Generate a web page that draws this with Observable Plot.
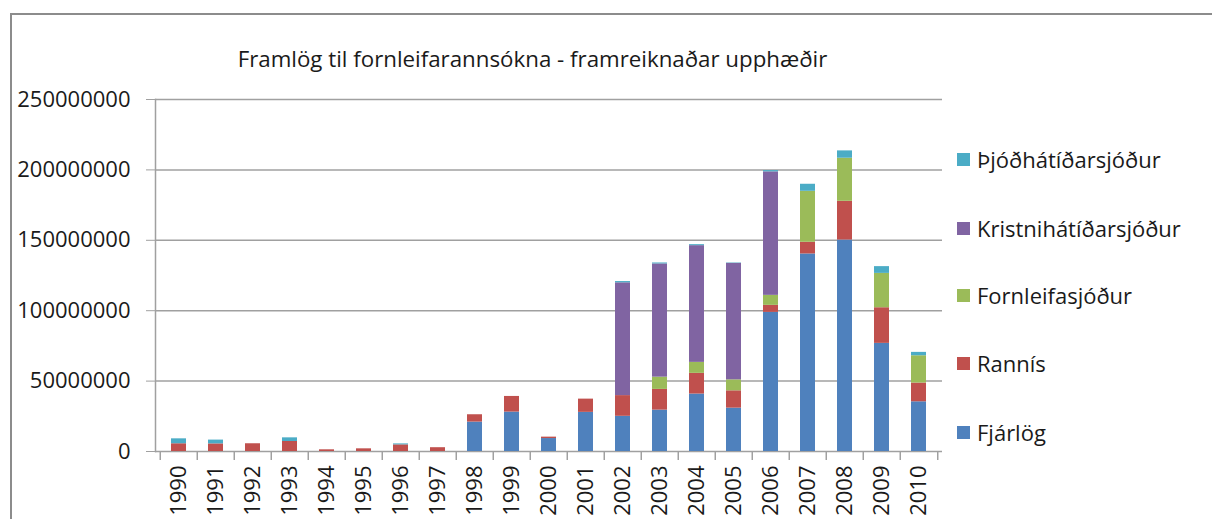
<!DOCTYPE html>
<html><head><meta charset="utf-8">
<script src="https://cdn.jsdelivr.net/npm/d3@7"></script>
<script src="https://cdn.jsdelivr.net/npm/@observablehq/plot@0.6"></script>
<style>
body{margin:0;background:#fff;font-family:"Open Sans",sans-serif;}
#wrap{position:relative;width:1212px;height:519px;overflow:hidden;background:#fff;}
#border{position:absolute;left:10px;top:13px;width:1300px;height:600px;border-left:2px solid #8c8c8c;border-top:2px solid #8c8c8c;}
#title{position:absolute;left:0;width:1065px;top:45px;text-align:center;font-size:22.3px;line-height:28px;color:#1a1a1a;white-space:nowrap;}
#chart{position:absolute;left:0;top:0;}
.row{position:absolute;left:957px;height:30px;display:flex;align-items:center;white-space:nowrap;font-size:22px;color:#1a1a1a;}
.sw{width:13px;height:13px;margin-right:7px;}
</style></head>
<body>
<div id="wrap">
  <div id="border"></div>
  <div id="chart"></div>
  <div id="title">Framlög til fornleifarannsókna - framreiknaðar upphæðir</div>
  <div id="legend"></div>
</div>
<script>
const years = ["1990","1991","1992","1993","1994","1995","1996","1997","1998","1999","2000","2001","2002","2003","2004","2005","2006","2007","2008","2009","2010"];
const seriesNames = ["Fjárlög","Rannís","Fornleifasjóður","Kristnihátíðarsjóður","Þjóðhátíðarsjóður"];
const seriesColors = ["#4F81BD","#C0504D","#9BBB59","#8064A2","#4BACC6"];
const legendOrder = ["Þjóðhátíðarsjóður","Kristnihátíðarsjóður","Fornleifasjóður","Rannís","Fjárlög"];

const fjarlog = [0,0,0,0,0,0,0,0,20900000,28000000,9200000,27800000,25000000,29400000,40800000,30800000,98800000,140300000,150200000,76800000,35300000];
const rannis = [5500000,5400000,5500000,7100000,1200000,1900000,4700000,2700000,5200000,11100000,1000000,9400000,14700000,14700000,14700000,12300000,5000000,8300000,27500000,25300000,13300000];
const fornleifasjodur = [0,0,0,0,0,0,0,0,0,0,0,0,0,8700000,7800000,7800000,7100000,36200000,30600000,24400000,19400000];
const kristnihatidarsjodur = [0,0,0,0,0,0,0,0,0,0,0,0,80100000,80400000,82900000,82700000,87700000,0,0,0,0];
const thjodhatidarsjodur = [3500000,2700000,0,2600000,0,0,700000,0,0,0,0,0,900000,700000,700000,300000,900000,5000000,5200000,4800000,2400000];
const yTicks = [0,50000000,100000000,150000000,200000000,250000000];

const seriesValues = [fjarlog, rannis, fornleifasjodur, kristnihatidarsjodur, thjodhatidarsjodur];
const rows = [];
seriesNames.forEach((s, k) => years.forEach((y, i) => rows.push({year: y, series: s, value: seriesValues[k][i]})));

const W = 950, ML = 155, MR = 8;
const step = (W - ML - MR) / years.length;
const gray = "#a0a0a0";

const chart = Plot.plot({
  width: W, height: 519,
  marginLeft: ML, marginRight: MR, marginTop: 99, marginBottom: 68,
  style: {fontFamily: "'Open Sans', sans-serif", color: "#1a1a1a", background: "transparent"},
  x: {domain: years, paddingInner: 0.6, paddingOuter: 0.3, label: null},
  y: {domain: [0, 250000000], label: null},
  color: {domain: seriesNames, range: seriesColors},
  marks: [
    Plot.ruleY(yTicks, {stroke: gray, strokeWidth: 1.5}),
    Plot.barY(rows, {x: "year", y: "value", fill: "series"}),
    Plot.frame({anchor: "left", stroke: gray, strokeWidth: 1.5}),
    Plot.axisY({ticks: yTicks, tickSize: 9, tickPadding: 16, fontSize: 22, stroke: gray, tickFormat: d => String(d), label: null}),
    Plot.axisX({tickRotate: -90, tickSize: 0, tickPadding: 14, fontSize: 22, label: null}),
    Plot.ruleX(years, {x: d => d, y1: 0, y2: 0, dx: -step / 2, insetBottom: -9, stroke: gray, strokeWidth: 1.5}),
    Plot.ruleX(years.slice(-1), {x: d => d, y1: 0, y2: 0, dx: step / 2, insetBottom: -9, stroke: gray, strokeWidth: 1.5})
  ]
});
document.getElementById("chart").appendChild(chart);

const legendTops = [144, 213, 280, 348, 417];
const leg = document.getElementById("legend");
legendOrder.forEach((name, i) => {
  const row = document.createElement("div");
  row.className = "row";
  row.style.top = legendTops[i] + "px";
  const sw = document.createElement("div");
  sw.className = "sw";
  sw.style.background = seriesColors[seriesNames.indexOf(name)];
  row.appendChild(sw);
  row.appendChild(document.createTextNode(name));
  leg.appendChild(row);
});
</script>
</body></html>
